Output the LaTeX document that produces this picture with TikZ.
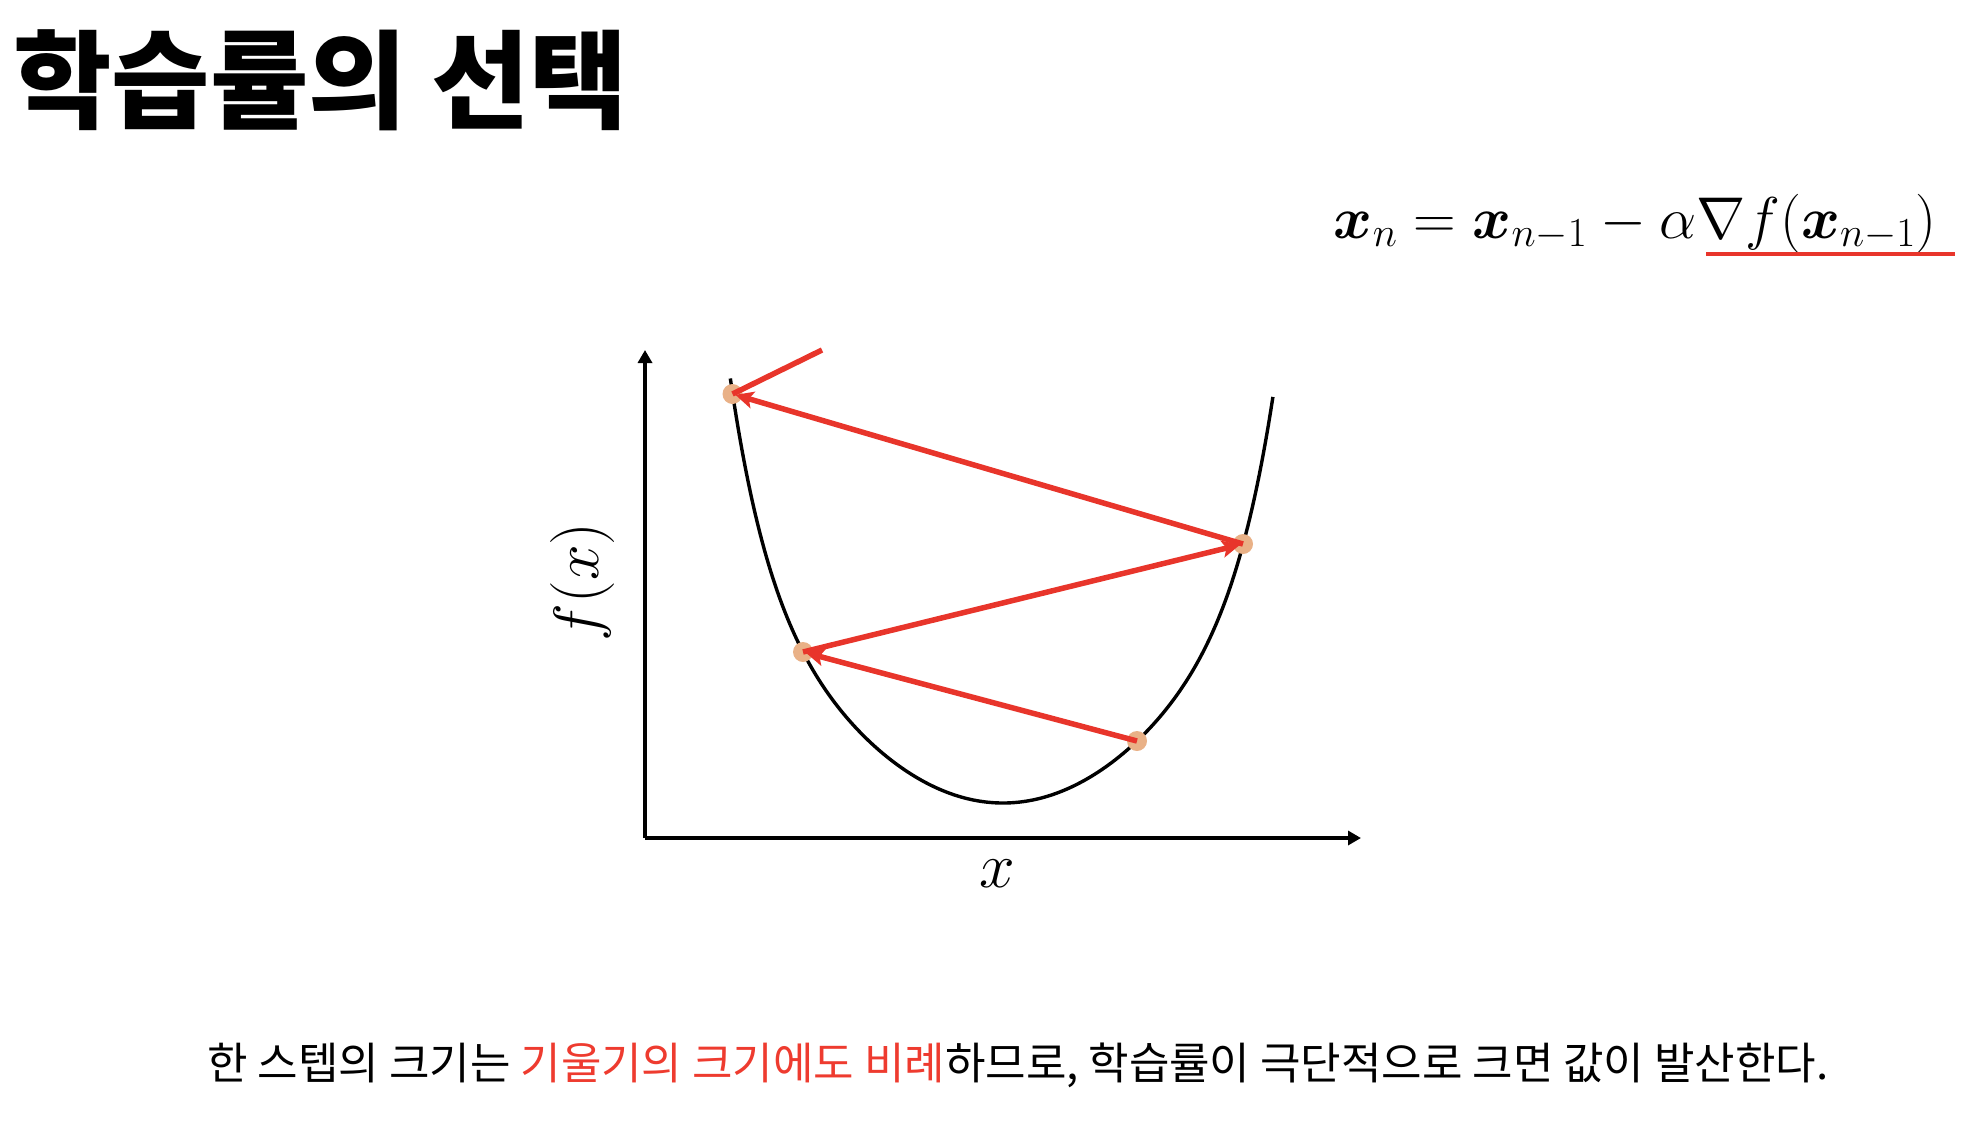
\RequirePackage{fix-cm}
\documentclass[tikz,border=0pt]{standalone}
\usepackage{amsmath,bm}
\usepackage{fontspec}
\newfontfamily\kr{Noto Sans CJK KR}
\usetikzlibrary{arrows.meta}
\definecolor{arrowred}{HTML}{E8352B}
\definecolor{textred}{HTML}{EE3B2F}
\definecolor{peach}{HTML}{E9B187}
\tikzset{
  axisline/.style={line width=3.4pt,-{Triangle[length=13pt,width=14pt]}},
  curveline/.style={line width=3.4pt},
  dotnode/.style={circle,fill=peach,draw=none,minimum size=20pt,inner sep=0pt},
  redarrow/.style={draw=arrowred,line width=5.5pt,shorten >=3pt,-{Stealth[length=18pt,width=17pt,inset=4pt]}},
  redline/.style={draw=arrowred,line width=5.5pt},
}
\begin{document}
\begin{tikzpicture}[x=1pt,y=-1pt]
\useasboundingbox (0,0) rectangle (1982,1128);
% title
\node[anchor=base west,inner sep=0pt] (title) at (13,120) {\kr\bfseries\fontsize{107}{112}\selectfont 학습률의 선택};
% formula
\node[anchor=base east,inner sep=0pt] (formula) at (1937,238) {\fontsize{59}{63}\selectfont $\bm{x}_n=\bm{x}_{n-1}-\alpha\nabla f(\bm{x}_{n-1})$};
\coordinate (ul1) at (1706,254);
\coordinate (ul2) at (1955,254);
\draw[arrowred,line width=4pt] (ul1) -- (ul2);
% axes
\coordinate (origin) at (645,838);
\coordinate (ytip) at (645,350);
\coordinate (xtip) at (1361,838);
\draw[axisline] (origin) -- (ytip);
\draw[axisline] (origin) -- (xtip);
\node[rotate=90,inner sep=0pt] (flabel) at (582,582) {\fontsize{64}{68}\selectfont $f(x)$};
\node[inner sep=0pt] (xlabel) at (997,874) {\fontsize{64}{68}\selectfont $x$};
% curve
\draw[curveline] plot[domain=-1.008:1,samples=240] ({1003+270.5*\x},{803-250*\x*\x-160*(\x*\x)^4});
% points
\node[dotnode] (p0) at (1137,741) {};
\node[dotnode] (p1) at (803,652) {};
\node[dotnode] (p2) at (1243,544) {};
\node[dotnode] (p3) at (732.5,394) {};
\coordinate (pout) at (822,350);
\draw[redarrow] (p0.center) -- (p1.center);
\draw[redarrow] (p1.center) -- (p2.center);
\draw[redarrow] (p2.center) -- (p3.center);
\draw[redline] (p3.center) -- (pout);
% bottom text
\node[anchor=base,inner sep=0pt] (caption) at (1018,1079) {\kr\fontsize{44}{48}\selectfont 한 스텝의 크기는 \textcolor{textred}{기울기의 크기에도 비례}하므로, 학습률이 극단적으로 크면 값이 발산한다.};
\end{tikzpicture}
\end{document}
